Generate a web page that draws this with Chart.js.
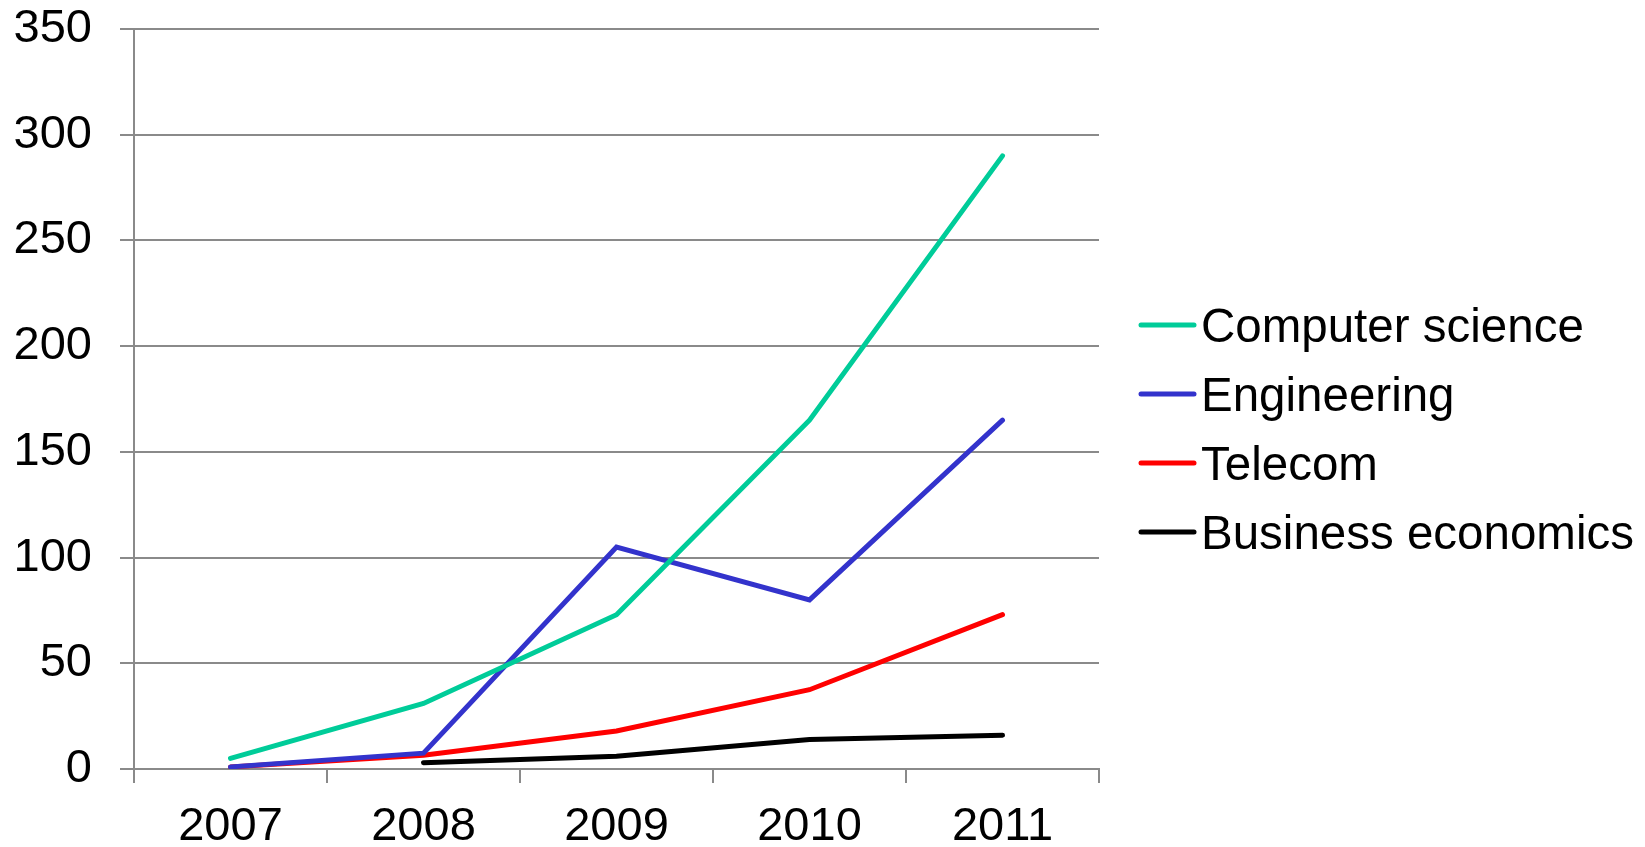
<!DOCTYPE html>
<html>
<head>
<meta charset="utf-8">
<script src="https://cdn.jsdelivr.net/npm/chart.js@4"></script>
<style>
  html, body { margin: 0; padding: 0; background: #fff; }
  #wrap { width: 1645px; height: 847px; }
</style>
</head>
<body>
<div id="wrap"><canvas id="chart" width="1645" height="847"></canvas></div>
<script>
// publications per year by field
const years = ['2007', '2008', '2009', '2010', '2011'];
const seriesNames = ['Computer science', 'Engineering', 'Telecom', 'Business economics'];
const computerScience = [5, 31, 73, 165, 290];
const engineering = [1, 7.5, 105, 80, 165];
const telecom = [1, 6.5, 18, 37.5, 73];
const businessEconomics = [null, 3, 6, 14, 16];
const yTicks = [0, 50, 100, 150, 200, 250, 300, 350];

const colors = ['#00CC99', '#3333CC', '#FF0000', '#000000'];
const FONT = '"Liberation Sans", Arial, sans-serif';
const GRID = '#8a8a8a';

// legend drawn by hand on the right side, one line sample + label per series
const sideLegend = {
    id: 'sideLegend',
    afterDraw(chart) {
        const ctx = chart.ctx;
        const x0 = 1141, x1 = 1194, tx = 1201;
        const top = 325, step = 69;
        ctx.save();
        ctx.font = '47.5px ' + FONT;
        ctx.textBaseline = 'alphabetic';
        chart.data.datasets.forEach((ds, i) => {
            const y = top + i * step;
            ctx.strokeStyle = ds.borderColor;
            ctx.lineWidth = 5;
            ctx.lineCap = 'round';
            ctx.beginPath();
            ctx.moveTo(x0, y);
            ctx.lineTo(x1, y);
            ctx.stroke();
            ctx.fillStyle = '#000';
            ctx.fillText(ds.label, tx, y + 17);
        });
        ctx.restore();
    }
};

const dataSets = [computerScience, engineering, telecom, businessEconomics];

new Chart(document.getElementById('chart'), {
    type: 'line',
    data: {
        labels: years,
        datasets: dataSets.map((d, i) => ({
            label: seriesNames[i],
            data: d,
            borderColor: colors[i],
            backgroundColor: colors[i],
            borderWidth: 5,
            borderCapStyle: 'round',
            pointRadius: 0,
            tension: 0,
            fill: false
        }))
    },
    options: {
        responsive: false,
        animation: false,
        layout: { padding: { top: 29, right: 546, left: 0, bottom: 0 } },
        plugins: { legend: { display: false }, tooltip: { enabled: false } },
        scales: {
            x: {
                type: 'category',
                offset: true,
                afterFit(scale) { scale.height = 78; scale.paddingLeft = 0; scale.paddingRight = 0; },
                grid: {
                    offset: true,
                    drawOnChartArea: false,
                    drawTicks: true,
                    tickLength: 14,
                    color: GRID,
                    lineWidth: 2
                },
                border: { display: true, color: GRID, width: 2 },
                ticks: {
                    font: { family: FONT, size: 47 },
                    color: '#000',
                    padding: 16,
                    maxRotation: 0,
                    autoSkip: false
                }
            },
            y: {
                min: 0,
                max: 350,
                afterFit(scale) { scale.width = 134; scale.paddingTop = 0; scale.paddingBottom = 0; },
                afterBuildTicks(scale) { scale.ticks = yTicks.map(v => ({ value: v })); },
                grid: {
                    color: GRID,
                    lineWidth: 2,
                    tickLength: 14
                },
                border: { display: true, color: GRID, width: 2 },
                ticks: {
                    font: { family: FONT, size: 47 },
                    color: '#000',
                    padding: 28
                }
            }
        }
    },
    plugins: [sideLegend]
});
</script>
</body>
</html>
